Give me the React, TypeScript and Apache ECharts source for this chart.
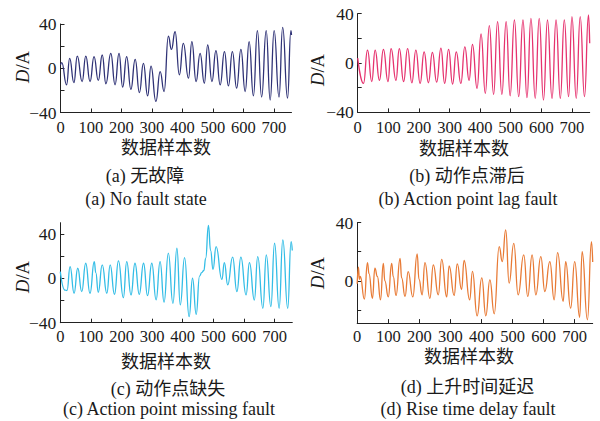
import React, { useEffect, useRef } from "react";
import * as echarts from "echarts";

// ---- data (sample index, amplitude) ----
const xTickLabels = [0, 100, 200, 300, 400, 500, 600, 700];
const xTickMarks = [100, 200, 300, 400, 500, 600, 700];
const X_MAX = 758;

// (a) No fault state
const aX = [0, 4, 20, 30, 44, 55, 71, 83, 97, 110, 124, 137, 149, 165, 179, 192, 204, 217, 231, 245, 259, 272, 286, 297, 313, 327, 340, 354, 364, 376, 390, 403, 420, 431, 445, 458, 472, 483, 497, 510, 524, 538, 551, 564, 578, 592, 606, 619, 633, 646, 660, 675, 688, 701, 717, 729, 745, 756, 758];
const aY = [3, 5, -15, 9, -13, 11, -12, 11, -12, 10.5, -11, 12, -14, 13.5, -15, 13.5, -17, 10.5, -19, 8, -22, 4.4, -25, 2, -30, -3, -21, 29, 17, 33, -6, 22.5, -9, 24, -12, 13.5, -13.5, 21, -12, 16, -15, 15, -16, 15, -18, 17, -21, 24, -25, 34, -26, 34, -28.7, 34, -26, 37, -27, 34, 30];

// (b) Action point lag fault
const bX = [0, 19, 32, 46, 57, 71, 84, 99, 109, 125, 136, 150, 163, 177, 190, 204, 217, 231, 244, 258, 272, 284, 297, 310, 322, 337, 350, 364, 375, 390, 403, 417, 430, 444, 457, 471, 485, 498, 512, 526, 540, 553, 566, 580, 593, 607, 620, 635, 648, 662, 675, 689, 700, 714, 727, 741, 754, 758];
const bY = [4, -16.5, 10.5, -15, 10.5, -14, 11, -15, 11.6, -14, 11.6, -15, 11.6, -16, 10.5, -16.5, 9, -16, 8.6, -15.5, 12, -16.5, 11, -17, 9, -16.5, 13, -14, 15, -20.5, 23.5, -24.6, 30.2, -25.4, 33.5, -25.4, 33.5, -26.5, 34.8, -27.3, 34.8, -28.1, 36.2, -28.6, 36.2, -30, 34.8, -28.6, 34.8, -28.6, 34.8, -27.3, 37.5, -28.6, 37.5, -27.3, 38.9, 16];

// (c) Action point missing fault
const cX = [0, 15, 22, 32, 45, 57, 70, 83, 97, 111, 116, 124, 137, 152, 163, 177, 190, 206, 217, 231, 244, 258, 272, 285, 299, 313, 326, 339, 353, 368, 381, 392, 406, 421, 432, 444, 455, 462, 469, 475, 484, 491, 499, 509, 528, 536, 547, 563, 577, 590, 607, 618, 634, 645, 662, 673, 688, 700, 715, 727, 743, 754, 758];
const cY = [6, -10.6, -11, 10.5, -13.5, 9, -12, 13.5, -13.5, 15, 5, -12.7, 12, -13.5, 12, -14.5, 15.6, -17.5, 15, -15, 13.5, -14.5, 13.5, -15.6, 13.5, -19.4, 15, -21.5, 22.6, -22.6, 27, -24, 18.6, -34.6, 0, -32.5, 2, 5, 7, 18, 47.5, 25, 8, 28.5, -1, 14, -6, 19, -12, 19, -15, 14, -19.6, 19.5, -27, 21, -25.6, 31.5, -27, 34.6, -27, 33, 25];

// (d) Rise time delay fault
const dX = [0, 4, 7, 10, 23, 33, 38, 49, 57, 65, 75, 84, 89, 100, 111, 116, 125, 138, 143, 154, 164, 179, 193, 199, 209, 218, 234, 245, 261, 272, 288, 296, 312, 322, 336, 344, 362, 371, 386, 401, 414, 427, 441, 457, 467, 478, 489, 504, 518, 536, 549, 563, 575, 591, 604, 620, 634, 645, 663, 671, 687, 700, 716, 724, 741, 754, 758];
const dY = [-2, 9.4, 1, 3, -12.5, 12.5, 5, -12, 8.7, 3, -13, 12, 0, -11, 12, 3, -10, 15.5, 2, -10.7, 6.4, -11, 18.5, 1, -9.6, 12.5, -12, 11, -9.6, 14.8, -11, 10.3, -10, 11.7, -6, 14, -13, 6.5, -24, 2, -24, 0.7, -22.6, 23.5, 13.3, 35, -1.6, 25.8, -9.6, 17.8, -10.7, 17.8, -9.6, 16.6, -7.3, 13.2, -13, 19.4, -14, 13.2, -18.7, 13.2, -25, 20, -26.7, 27, 13];

const yTicksAB = [-40, -20, 0, 20, 40];
const yLabelsAB = [-40, 0, 40];
const yTicksC = [-40, -20, 0, 20, 40];
const yLabelsC = [-40, 0, 40];
const yTicksD = [-20, 0, 20, 40];
const yLabelsD = [0, 40];

const captionsCN = ["(a) 无故障", "(b) 动作点滞后", "(c) 动作点缺失", "(d) 上升时间延迟"];
const captionsEN = ["(a) No fault state", "(b) Action point lag fault", "(c) Action point missing fault", "(d) Rise time delay fault"];
const xName = "数据样本数";

const FONT = "'Liberation Serif', 'Times New Roman', 'Noto Sans CJK SC', serif";
const TXT = "#1a1a1a";

const panels = [
  { xs: aX, ys: aY, color: "#2f3276", grid: { left: 60.5, top: 24, width: 231, height: 88.5 }, yMin: -40, yMax: 40, ticks: yTicksAB, labels: yLabelsAB, xMargin: 7,
    yName: [23, 67], xNamePos: [166, 148], cn: [145, 176], en: [146, 199] },
  { xs: bX, ys: bY, color: "#e6336f", grid: { left: 357.7, top: 13.6, width: 232, height: 98.8 }, yMin: -40, yMax: 40, ticks: yTicksAB, labels: yLabelsAB, xMargin: 7,
    yName: [318, 70], xNamePos: [464, 149], cn: [467, 176], en: [468, 199] },
  { xs: cX, ys: cY, color: "#33bde6", grid: { left: 60.3, top: 222.7, width: 232, height: 100 }, yMin: -40, yMax: 50, ticks: yTicksC, labels: yLabelsC, xMargin: 6,
    yName: [23, 277], xNamePos: [166, 362], cn: [168, 389], en: [169, 409] },
  { xs: dX, ys: dY, color: "#e87a35", grid: { left: 357.2, top: 222.6, width: 235.5, height: 100.5 }, yMin: -29, yMax: 40, ticks: yTicksD, labels: yLabelsD, xMargin: 5,
    yName: [318, 273], xNamePos: [469, 357], cn: [467.5, 387], en: [468, 409] },
];

export default function App() {
  const ref = useRef<HTMLDivElement>(null);
  useEffect(() => {
    document.body.style.margin = "0";
    if (!ref.current) return;
    const chart = echarts.init(ref.current, undefined, { renderer: "svg" });
    const fmt = (list: number[]) => (v: number) =>
      list.indexOf(Math.round(v)) >= 0 && Math.abs(v - Math.round(v)) < 1e-6 ? String(Math.round(v)).replace("-", "\u2212") : "";
    const grids = panels.map((p) => ({ ...p.grid }));
    const xAxes = panels.map((p, i) => ({
      type: "value",
      gridIndex: i,
      min: 0,
      max: X_MAX,
      axisLine: { show: true, onZero: false, lineStyle: { color: "#222", width: 1 } },
      axisTick: { show: true, inside: true, length: 4, customValues: xTickMarks, lineStyle: { color: "#222" } },
      axisLabel: { customValues: xTickLabels, formatter: fmt(xTickLabels), fontSize: 16.5, fontFamily: FONT, color: TXT, margin: p.xMargin },
      splitLine: { show: false },
    }));
    const yAxes = panels.map((p, i) => ({
      type: "value",
      gridIndex: i,
      min: p.yMin,
      max: p.yMax,
      axisLine: { show: true, onZero: false, lineStyle: { color: "#222", width: 1 } },
      axisTick: { show: true, inside: true, length: 4, customValues: p.ticks, lineStyle: { color: "#222" } },
      axisLabel: { customValues: p.labels, formatter: fmt(p.labels), fontSize: 17.5, fontFamily: FONT, color: TXT, margin: 4 },
      splitLine: { show: false },
    }));
    const series = panels.map((p, i) => ({
      type: "line",
      xAxisIndex: i,
      yAxisIndex: i,
      data: p.xs.map((x, k) => [x, p.ys[k]]),
      showSymbol: false,
      smooth: 0.5,
      smoothMonotone: "x",
      lineStyle: { color: p.color, width: 1.3 },
      silent: true,
    }));
    const textStyle = (text: string, size: number) => ({
      text,
      fontSize: size,
      fontFamily: FONT,
      fill: TXT,
      align: "center",
      verticalAlign: "middle",
    });
    const graphics: any[] = [];
    panels.forEach((p, i) => {
      graphics.push({ type: "text", x: p.xNamePos[0], y: p.xNamePos[1], style: textStyle(xName, 18) });
      graphics.push({ type: "text", x: p.cn[0], y: p.cn[1], style: textStyle(captionsCN[i], 18) });
      graphics.push({ type: "text", x: p.en[0], y: p.en[1], style: textStyle(captionsEN[i], 18) });
      graphics.push({
        type: "text",
        x: p.yName[0],
        y: p.yName[1],
        rotation: Math.PI / 2,
        style: {
          ...textStyle("{i|D}/A", 18.5),
          rich: { i: { fontStyle: "italic", fontSize: 18.5, fontFamily: FONT, fill: TXT } },
        },
      });
    });
    chart.setOption({
      animation: false,
      backgroundColor: "#ffffff",
      grid: grids,
      xAxis: xAxes,
      yAxis: yAxes,
      series,
      graphic: graphics,
    });
    return () => chart.dispose();
  }, []);
  return <div ref={ref} style={{ width: 600, height: 421 }} />;
}
